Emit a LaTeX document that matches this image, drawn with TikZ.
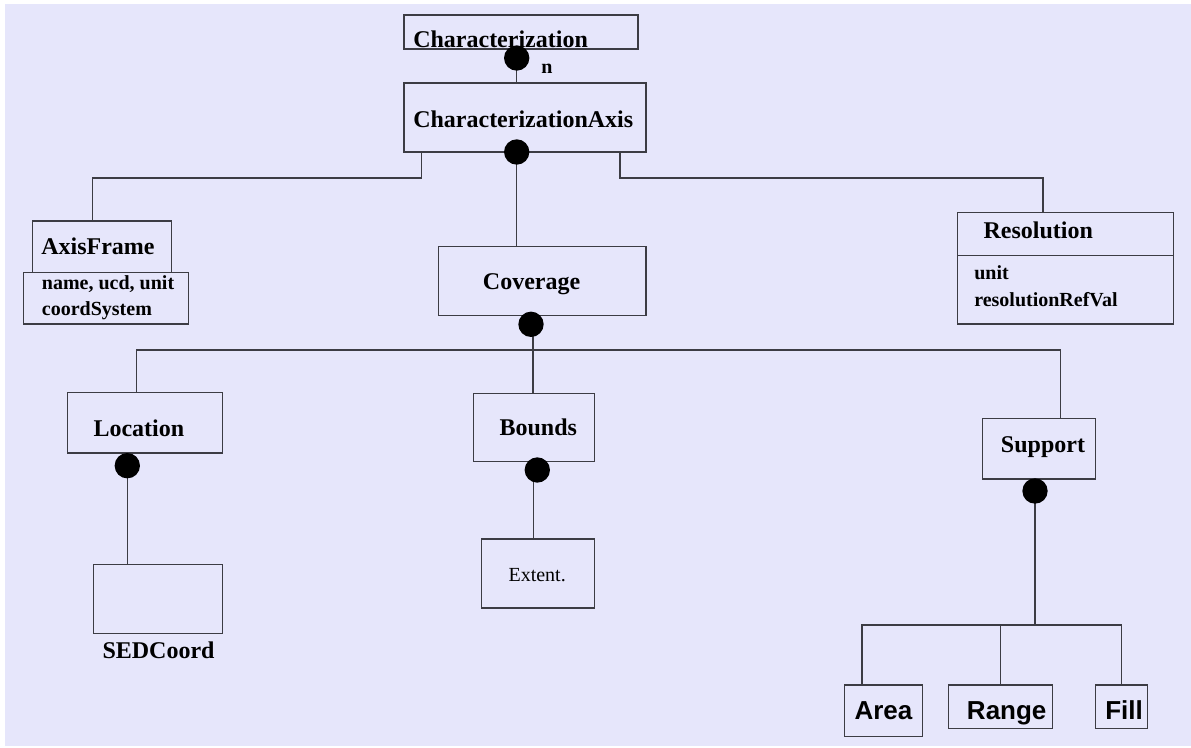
\documentclass[tikz,border=0pt]{standalone}
\usepackage{fontspec}
\setmainfont{Liberation Serif}
\newfontfamily\arialfont{Liberation Sans}
\usetikzlibrary{fit}
\definecolor{bgc}{HTML}{E6E6FB}
\definecolor{linec}{HTML}{3C3C44}
\begin{document}
\begin{tikzpicture}[x=0.75pt,y=-0.75pt,
  box/.style={draw=linec, line width=0.9pt, inner sep=0pt, outer sep=0pt},
  dot/.style={circle, fill=black, inner sep=0pt, minimum size=19pt},
  conn/.style={draw=linec, line width=0.9pt},
  lbl/.style={anchor=base west, inner sep=0pt, font=\fontsize{18}{20}\selectfont\bfseries},
  sub/.style={anchor=base west, inner sep=0pt, font=\fontsize{15}{17}\selectfont\bfseries},
  rlbl/.style={anchor=base west, inner sep=0pt, font=\fontsize{15}{17}\selectfont},
  slbl/.style={anchor=base west, inner sep=0pt, font=\fontsize{19.5}{22}\selectfont\arialfont\bfseries}]
\useasboundingbox (0,0) rectangle (1191,748);
\fill[bgc] (5,4) rectangle (1191,746);

% boxes
\node[box, fit={(404,15) (638,49)}] (char) {};
\node[box, fit={(404,83) (646,152)}] (ca) {};
\node[box, fit={(32.7,221) (171.3,272.3)}] (af) {};
\node[box, fit={(23.3,272.3) (188.3,324)}] (afa) {};
\node[box, fit={(957.3,212.3) (1173.3,324)}] (res) {};
\node[box, fit={(438.7,246.7) (646,315.7)}] (cov) {};
\node[box, fit={(67.3,392.7) (222.7,453)}] (loc) {};
\node[box, fit={(93.3,564.3) (222.7,633.3)}] (sed) {};
\node[box, fit={(473.3,393.3) (594.3,461.3)}] (bnd) {};
\node[box, fit={(481.7,539) (594.3,608)}] (ext) {};
\node[box, fit={(982.7,418.3) (1095.3,479)}] (sup) {};
\node[box, fit={(844.3,685) (922.3,736.7)}] (area) {};
\node[box, fit={(948.7,685) (1052.3,728.3)}] (range) {};
\node[box, fit={(1095.3,685) (1147.3,728.3)}] (fill) {};
\draw[conn] (res.west |- 0,255.7) -- (res.east |- 0,255.7);

% connectors
\coordinate (cal) at (421.7,152);
\coordinate (car) at (620,152);
\coordinate (afin) at (92.7,221);
\coordinate (resin) at (1043,212.3);
\draw[conn] (516.7,58) -- (516.7,58 |- ca.north);
\draw[conn] (cal) -- ++(0,26) -| (afin);
\draw[conn] (car) -- ++(0,26) -| (resin);
\draw[conn] (516.5,152) -- (516.5,0 |- cov.north);
\draw[conn] (533,324) -- (533,0 |- bnd.north);
\draw[conn] (loc.north -| 136.7,0) |- (533,350) -| (sup.north -| 1060.7,0);
\draw[conn] (127.3,465) -- (sed.north -| 127.3,0);
\draw[conn] (533.7,470) -- (ext.north -| 533.7,0);
\draw[conn] (1035,491) -- (1035,625);
\draw[conn] (area.north -| 862,0) |- (1035,625) -| (fill.north -| 1121.7,0);
\draw[conn] (1000.3,625) -- (range.north -| 1000.3,0);

% dots
\node[dot] (d1) at (516.7,58) {};
\node[dot] (d2) at (516.7,152) {};
\node[dot] (d3) at (531,324.3) {};
\node[dot] (d4) at (127.3,465.7) {};
\node[dot] (d5) at (537.3,470) {};
\node[dot] (d6) at (1035,491) {};

% labels
\node[lbl] (tchar) at (413,48) {Characterization};
\node[anchor=base west, inner sep=0pt, font=\fontsize{15}{17}\selectfont\bfseries] (tn) at (541,74) {n};
\node[lbl] (tca) at (413,128) {CharacterizationAxis};
\node[lbl] (taf) at (41,255) {AxisFrame};
\node[sub] (tafa1) at (41.7,289.3) {name, ucd, unit};
\node[sub] (tafa2) at (41.7,315.7) {coordSystem};
\node[lbl] (tres) at (983.3,238.3) {Resolution};
\node[sub] (tres1) at (974,280) {unit};
\node[sub] (tres2) at (974,306) {resolutionRefVal};
\node[lbl] (tcov) at (482.7,290) {Coverage};
\node[lbl] (tloc) at (93.3,436) {Location};
\node[lbl] (tsed) at (102.3,658.3) {SEDCoord};
\node[lbl] (tbnd) at (499.3,435.7) {Bounds};
\node[rlbl] (text) at (508.3,581.7) {Extent.};
\node[lbl] (tsup) at (1000.7,452.3) {Support};
\node[slbl] (tarea) at (854.3,719.3) {Area};
\node[slbl] (trange) at (966.7,719.3) {Range};
\node[slbl] (tfill) at (1105,719.3) {Fill};
\end{tikzpicture}
\end{document}
